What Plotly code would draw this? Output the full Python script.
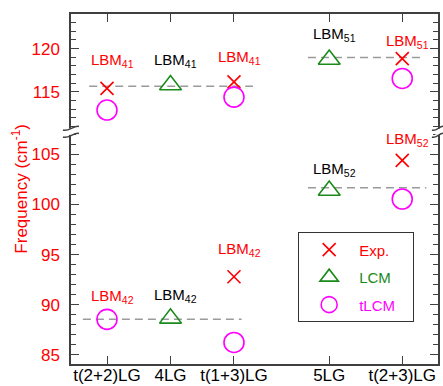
import plotly.graph_objects as go

# ---------------- data ----------------
categories = ["t(2+2)LG", "4LG", "t(1+3)LG", "5LG", "t(2+3)LG"]
x_pos = [1, 2, 3, 4.5, 5.65]

exp_high = [115.4, None, 116.15, None, 118.85]
exp_low = [None, None, 92.8, None, 104.4]
lcm_high = [None, 115.8, None, 118.75, None]
lcm_low = [None, 88.65, None, 101.4, None]
tlcm_high = [112.9, None, 114.4, None, 116.55]
tlcm_low = [88.55, None, 86.25, None, 100.55]

# reference dashed lines: x start, x end, value, panel
ref_x0 = [0.72, 0.62, 4.165, 4.165]
ref_x1 = [3.30, 3.12, 5.93, 6.03]
ref_val = [115.65, 88.57, 118.97, 101.67]
ref_panel = ["high", "low", "high", "low"]

# mode labels
lab_cat = [0, 1, 2, 3, 4, 4, 3, 0, 1, 2]
lab_val = [118.66, 118.66, 118.95, 121.65, 120.85, 106.5, 103.5, 90.8, 90.9, 95.5]
lab_sub = ["41", "41", "41", "51", "51", "52", "52", "42", "42", "42"]
lab_col = ["red", "black", "red", "black", "red", "red", "black", "red", "black", "red"]
lab_panel = ["high", "high", "high", "high", "high", "low", "low", "low", "low", "low"]

RED = "#ff0000"
GREEN = "#1a8a1a"
MAG = "#ff00ff"
AX = "#404040"
FONT = "Liberation Sans, Arial, sans-serif"
PAD = "\u00a0" * 3

fig = go.Figure()

def add_series(name, color, symbol, size, high, low, group, width):
    fig.add_trace(go.Scatter(x=x_pos, y=high, mode="markers", xaxis="x2", yaxis="y2",
                             name=f"<span style='color:{color}'>{name}{PAD}</span>",
                             legendgroup=group, showlegend=True,
                             marker=dict(symbol=symbol, size=size, color=color,
                                         line=dict(color=color, width=width))))
    fig.add_trace(go.Scatter(x=x_pos, y=low, mode="markers", xaxis="x", yaxis="y",
                             name=name, legendgroup=group, showlegend=False,
                             marker=dict(symbol=symbol, size=size, color=color,
                                         line=dict(color=color, width=width))))

# dashed reference lines (drawn first, below markers)
for x0, x1, v, p in zip(ref_x0, ref_x1, ref_val, ref_panel):
    fig.add_trace(go.Scatter(x=[x0, x1], y=[v, v], mode="lines",
                             xaxis="x2" if p == "high" else "x",
                             yaxis="y2" if p == "high" else "y",
                             showlegend=False, hoverinfo="skip",
                             line=dict(color="#9a9a9a", width=1.5, dash="8px,5px")))

add_series("Exp.", RED, "x-thin-open", 13, exp_high, exp_low, "exp", 1.6)
add_series("LCM", GREEN, "triangle-up-open", 19, lcm_high, lcm_low, "lcm", 1.6)
add_series("tLCM", MAG, "circle-open", 20, tlcm_high, tlcm_low, "tlcm", 1.6)

annotations = []
for c, v, s, col, p in zip(lab_cat, lab_val, lab_sub, lab_col, lab_panel):
    annotations.append(dict(x=x_pos[c] + 0.08, y=v,
                            xref="x2" if p == "high" else "x",
                            yref="y2" if p == "high" else "y",
                            text=f"LBM<sub>{s}</sub>", showarrow=False,
                            xanchor="center", yanchor="middle",
                            font=dict(family=FONT, size=15, color=RED if col == "red" else "black")))

annotations.append(dict(x=-0.139, y=0.501, xref="paper", yref="paper",
                        text="Frequency (cm<sup>-1</sup>)", textangle=-90,
                        showarrow=False, xanchor="center", yanchor="middle",
                        font=dict(family=FONT, size=17, color=RED)))

BREAK = 0.6637

shapes = []
for xa, half in [(0, 8), (1, 6)]:
    shapes.append(dict(type="rect", xref="paper", yref="paper",
                       xsizemode="pixel", ysizemode="pixel", xanchor=xa, yanchor=BREAK,
                       x0=-2.5, x1=2.5, y0=-3.2, y1=3.2,
                       fillcolor="white", line=dict(width=0), layer="above"))
    for dy in (3.5, -3.5):
        shapes.append(dict(type="path", xref="paper", yref="paper",
                           xsizemode="pixel", ysizemode="pixel", xanchor=xa, yanchor=BREAK,
                           path=f"M{-half},{dy-1.8} C{-half/3},{dy-4} {half/3},{dy+3} {half},{dy+1.8}",
                           line=dict(color=AX, width=1.5), layer="above"))

axis_common = dict(showline=True, linecolor=AX, linewidth=1.5, ticks="inside",
                   tickcolor=AX, tickwidth=1.2, ticklen=8, showgrid=False, zeroline=False)

fig.update_layout(
    width=443, height=386,
    margin=dict(l=71, r=5, t=14, b=22, autoexpand=False),
    paper_bgcolor="white", plot_bgcolor="white",
    font=dict(family=FONT, size=15, color="black"),
    xaxis=dict(domain=[0, 1], anchor="y", range=[0.433, 6.213],
               tickvals=x_pos, ticktext=categories, mirror=False,
               tickfont=dict(family=FONT, size=17, color="black"),
               ticklabelstandoff=-5, **axis_common),
    xaxis2=dict(domain=[0, 1], anchor="y2", matches="x", side="top",
                tickvals=x_pos, showticklabels=False, mirror=False, **axis_common),
    yaxis=dict(domain=[0, BREAK], anchor="x", range=[84.1, 107.26],
               tick0=85, dtick=5, mirror="ticks",
               minor=dict(dtick=1, ticks="inside", ticklen=5, tickcolor=AX, tickwidth=1.2),
               tickfont=dict(family=FONT, size=17, color=RED), ticklabelstandoff=6,
               **axis_common),
    yaxis2=dict(domain=[BREAK, 1], anchor="x2", range=[110.4, 124],
                tick0=115, dtick=5, mirror="ticks",
                minor=dict(dtick=1, ticks="inside", ticklen=5, tickcolor=AX, tickwidth=1.2),
                tickfont=dict(family=FONT, size=17, color=RED), ticklabelstandoff=6,
                **axis_common),
    legend=dict(x=0.619, y=0.376, xanchor="left", yanchor="top",
                bordercolor="#333333", borderwidth=1, bgcolor="white",
                font=dict(family=FONT, size=15), itemwidth=50, tracegroupgap=5),
    annotations=annotations, shapes=shapes, showlegend=True,
)

fig.write_html("out.html")
